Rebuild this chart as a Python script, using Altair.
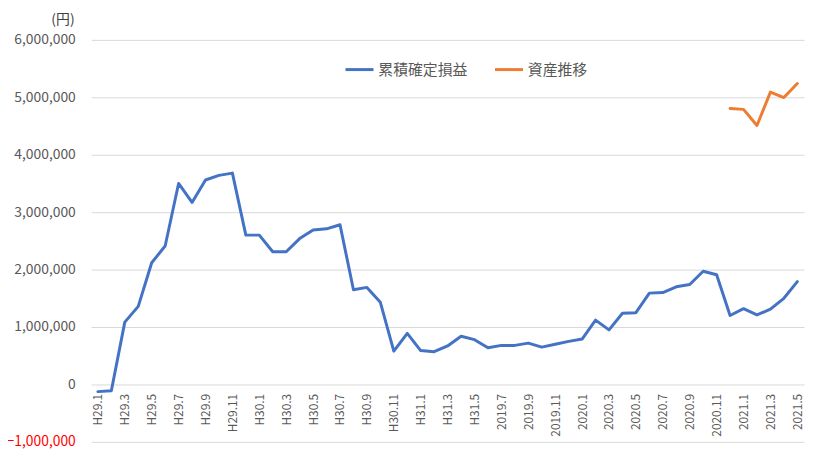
import altair as alt
import pandas as pd

months = (
    [f"H29.{m}" for m in range(1, 13)]
    + [f"H30.{m}" for m in range(1, 13)]
    + [f"H31.{m}" for m in range(1, 6)]
    + [f"2019.{m}" for m in range(6, 13)]
    + [f"2020.{m}" for m in range(1, 13)]
    + [f"2021.{m}" for m in range(1, 6)]
)

profit = [
    -125000, -110000, 1085000, 1360000, 2120000, 2410000, 3500000, 3170000, 3560000, 3640000, 3680000, 2600000,
    2600000, 2310000, 2310000, 2540000, 2690000, 2710000, 2780000, 1650000, 1690000, 1430000, 580000, 890000,
    590000, 570000, 670000, 840000, 780000, 640000, 680000, 680000, 720000, 650000, 700000, 750000,
    790000, 1120000, 950000, 1240000, 1250000, 1590000, 1600000, 1700000, 1740000, 1970000, 1910000, 1200000,
    1320000, 1210000, 1310000, 1500000, 1790000,
]

asset_months = ["2020.12", "2021.1", "2021.2", "2021.3", "2021.4", "2021.5"]
asset = [4805000, 4790000, 4510000, 5090000, 4995000, 5240000]

series_names = ["累積確定損益", "資産推移"]
series_colors = ["#4472C4", "#ED7D31"]

y_ticks = [-1000000, 0, 1000000, 2000000, 3000000, 4000000, 5000000, 6000000]
x_label_values = months[::2]

df = pd.concat([
    pd.DataFrame({"month": months, "value": profit, "series": series_names[0]}),
    pd.DataFrame({"month": asset_months, "value": asset, "series": series_names[1]}),
], ignore_index=True)

font = "Noto Sans CJK JP"
grey = "#595959"

chart = alt.Chart(df).mark_line(strokeWidth=3, strokeJoin="round", strokeCap="round").encode(
    x=alt.X(
        "month:N",
        sort=months,
        scale=alt.Scale(type="point", padding=0.5, domain=months),
        axis=alt.Axis(
            title=None,
            values=x_label_values,
            labelAngle=-90,
            labelFontSize=12,
            labelColor=grey,
            labelFont=font,
            labelPadding=9,
            domain=False,
            ticks=False,
            grid=False,
            offset=-58,
            labelOverlap=False,
        ),
    ),
    y=alt.Y(
        "value:Q",
        scale=alt.Scale(domain=[-1000000, 6000000], nice=False),
        axis=alt.Axis(
            title="(円)",
            titleAngle=0,
            titleX=-29,
            titleY=-21,
            titleAlign="center",
            titleBaseline="middle",
            titleFontSize=14,
            titleFontWeight="normal",
            titleColor="#404040",
            titleFont=font,
            values=y_ticks,
            format=",.0f",
            labelFontSize=14,
            labelFont=font,
            labelColor={"expr": "datum.value < 0 ? '#FF0000' : '#595959'"},
            labelPadding=16,
            domain=False,
            ticks=False,
            gridColor="#D9D9D9",
            gridWidth=1,
        ),
    ),
    color=alt.Color(
        "series:N",
        scale=alt.Scale(domain=series_names, range=series_colors),
        legend=alt.Legend(
            title=None,
            orient="none",
            direction="horizontal",
            legendX=255,
            legendY=14,
            symbolType="stroke",
            symbolStrokeWidth=3,
            symbolSize=800,
            labelFontSize=15,
            labelFont=font,
            labelColor=grey,
            labelOffset=3,
            columnPadding=20,
        ),
    ),
    detail="series:N",
).properties(
    width=720,
    height=406,
    autosize=alt.AutoSizeParams(type="none"),
    padding={"left": 84, "top": 30, "right": 5, "bottom": 5},
).configure_view(stroke=None)

chart.save("out.html", embed_options={"renderer": "svg", "actions": False})
